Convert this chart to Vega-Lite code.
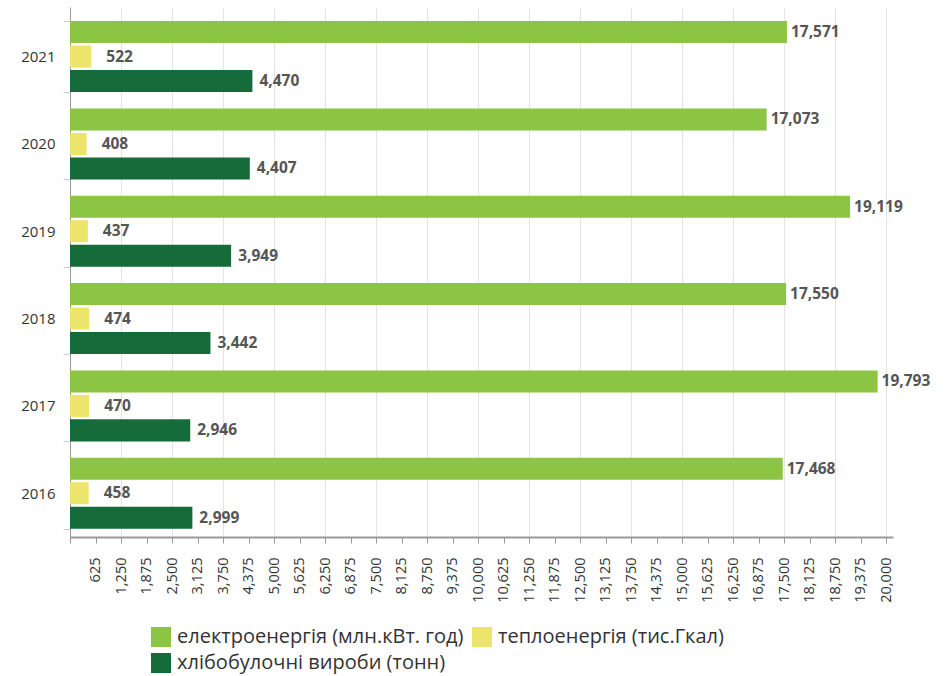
{
  "$schema": "https://vega.github.io/schema/vega-lite/v6.json",
  "width": 823,
  "height": 530,
  "autosize": {"type": "none"},
  "padding": {"left": 70, "top": 7, "right": 57, "bottom": 139},
  "config": {"font": "Open Sans", "view": {"stroke": null}},
  "data": {
    "values": [
      {"year": "2021", "series": "електроенергія (млн.кВт. год)", "value": 17571},
      {"year": "2021", "series": "теплоенергія (тис.Гкал)", "value": 522},
      {"year": "2021", "series": "хлібобулочні вироби (тонн)", "value": 4470},
      {"year": "2020", "series": "електроенергія (млн.кВт. год)", "value": 17073},
      {"year": "2020", "series": "теплоенергія (тис.Гкал)", "value": 408},
      {"year": "2020", "series": "хлібобулочні вироби (тонн)", "value": 4407},
      {"year": "2019", "series": "електроенергія (млн.кВт. год)", "value": 19119},
      {"year": "2019", "series": "теплоенергія (тис.Гкал)", "value": 437},
      {"year": "2019", "series": "хлібобулочні вироби (тонн)", "value": 3949},
      {"year": "2018", "series": "електроенергія (млн.кВт. год)", "value": 17550},
      {"year": "2018", "series": "теплоенергія (тис.Гкал)", "value": 474},
      {"year": "2018", "series": "хлібобулочні вироби (тонн)", "value": 3442},
      {"year": "2017", "series": "електроенергія (млн.кВт. год)", "value": 19793},
      {"year": "2017", "series": "теплоенергія (тис.Гкал)", "value": 470},
      {"year": "2017", "series": "хлібобулочні вироби (тонн)", "value": 2946},
      {"year": "2016", "series": "електроенергія (млн.кВт. год)", "value": 17468},
      {"year": "2016", "series": "теплоенергія (тис.Гкал)", "value": 458},
      {"year": "2016", "series": "хлібобулочні вироби (тонн)", "value": 2999}
    ]
  },
  "encoding": {
    "y": {
      "field": "year",
      "type": "nominal",
      "sort": "descending",
      "scale": {"paddingInner": 0.187, "paddingOuter": 0.128, "align": 0.63},
      "axis": {
        "title": null,
        "tickBand": "extent",
        "tickColor": "#cccccc",
        "tickSize": 7,
        "domainColor": "#999999",
        "labelPadding": 8,
        "labelFontSize": 15,
        "labelColor": "#333333",
        "grid": false
      }
    },
    "yOffset": {
      "field": "series",
      "type": "nominal",
      "sort": ["електроенергія (млн.кВт. год)", "теплоенергія (тис.Гкал)", "хлібобулочні вироби (тонн)"],
      "scale": {"paddingInner": 0.1, "paddingOuter": 0}
    },
    "x": {
      "field": "value",
      "type": "quantitative",
      "scale": {"domain": [0, 20170], "nice": false},
      "axis": {
        "title": null,
        "values": [0, 625, 1250, 1875, 2500, 3125, 3750, 4375, 5000, 5625, 6250, 6875, 7500, 8125, 8750, 9375, 10000, 10625, 11250, 11875, 12500, 13125, 13750, 14375, 15000, 15625, 16250, 16875, 17500, 18125, 18750, 19375, 20000],
        "format": ",.0f",
        "labelExpr": "datum.value === 0 ? '' : datum.label",
        "labelAngle": -90,
        "labelFontSize": 14.5,
        "labelColor": "#333333",
        "labelPadding": 14,
        "tickSize": 6,
        "tickColor": "#999999",
        "domainColor": "#999999",
        "domainWidth": 2,
        "grid": true,
        "gridColor": "#e3e3e3",
        "gridOpacity": {"condition": {"test": "datum.value % 1250 === 0 && datum.value > 0", "value": 1}, "value": 0}
      }
    }
  },
  "layer": [
    {
      "mark": {"type": "bar"},
      "encoding": {
        "color": {
          "field": "series",
          "type": "nominal",
          "scale": {
            "domain": ["електроенергія (млн.кВт. год)", "теплоенергія (тис.Гкал)", "хлібобулочні вироби (тонн)"],
            "range": ["#8cc443", "#ede46c", "#156b39"]
          },
          "legend": {
            "title": null,
            "orient": "none",
            "legendX": 81,
            "legendY": 620,
            "direction": "horizontal",
            "columns": 2,
            "symbolType": "square",
            "symbolSize": 400,
            "symbolStrokeWidth": 0,
            "labelFontSize": 20,
            "labelColor": "#333333",
            "labelLimit": 500,
            "labelOffset": 6,
            "columnPadding": 8,
            "rowPadding": 6
          }
        }
      }
    },
    {
      "transform": [{"filter": "datum.series === 'електроенергія (млн.кВт. год)'"}],
      "mark": {"type": "text", "align": "left", "baseline": "middle", "dx": 4, "fontWeight": "bold", "fontSize": 15.5, "color": "#555555"},
      "encoding": {"text": {"field": "value", "type": "quantitative", "format": ","}}
    },
    {
      "transform": [{"filter": "datum.series === 'теплоенергія (тис.Гкал)'"}],
      "mark": {"type": "text", "align": "left", "baseline": "middle", "dx": 15, "fontWeight": "bold", "fontSize": 15.5, "color": "#555555"},
      "encoding": {"text": {"field": "value", "type": "quantitative", "format": ","}}
    },
    {
      "transform": [{"filter": "datum.series === 'хлібобулочні вироби (тонн)'"}],
      "mark": {"type": "text", "align": "left", "baseline": "middle", "dx": 7, "fontWeight": "bold", "fontSize": 15.5, "color": "#555555"},
      "encoding": {"text": {"field": "value", "type": "quantitative", "format": ","}}
    }
  ]
}
